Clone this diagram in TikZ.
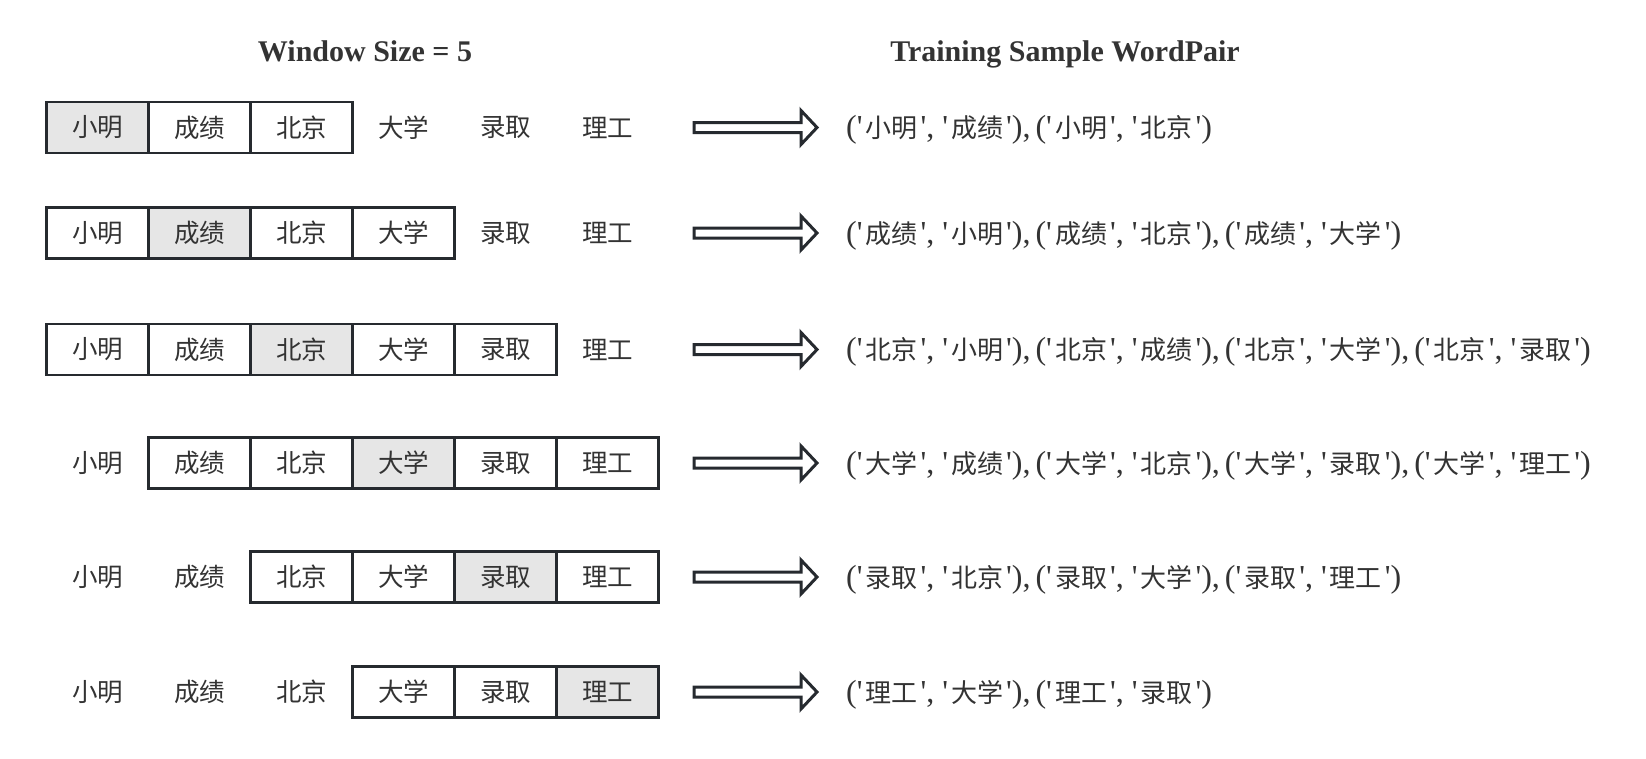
\documentclass[tikz,border=0pt]{standalone}
\usepackage{fontspec}
\setmainfont{Liberation Serif}
\newfontfamily\cjk{Noto Sans CJK SC}

\definecolor{boxgray}{HTML}{262A2F}
\definecolor{focusgray}{HTML}{E6E6E6}
\definecolor{inkgray}{HTML}{333333}

\newcommand{\qw}[1]{\textquotesingle\kern3pt{\cjk\fontsize{26}{26}\selectfont #1}\kern3pt\textquotesingle}
\newcommand{\nextpair}{),\kern5pt(}

\tikzset{
    word/.style={minimum width=102pt, minimum height=51pt, inner sep=0pt,
        text=inkgray, font=\cjk\fontsize{25.5}{25.5}\selectfont},
    cell/.style={word, draw=boxgray, line width=2.8pt, fill=white},
    focus/.style={cell, fill=focusgray},
    heading/.style={anchor=base, inner sep=0pt, text=inkgray, font=\bfseries\fontsize{30}{30}\selectfont},
    pairs/.style={anchor=base west, inner sep=0pt, text=inkgray, font=\fontsize{32}{32}\selectfont},
    hollow/.style={draw=boxgray, line width=3pt, fill=white, line join=miter}
}

\begin{document}
\begin{tikzpicture}[x=1pt, y=-1pt]
        \useasboundingbox (0,0) rectangle (1646,758);

        % headings
        \node[heading] (wsize) at (365,61) {Window Size = 5};
        \node[heading] (wpair) at (1065,61) {Training Sample WordPair};

        % row 1
        \node[focus] (a1) at (97.5,127.5) {小明};
        \node[cell] (a2) at (199.5,127.5) {成绩};
        \node[cell] (a3) at (301.5,127.5) {北京};
        \node[word] (a4) at (403.5,127.5) {大学};
        \node[word] (a5) at (505.5,127.5) {录取};
        \node[word] (a6) at (607.5,127.5) {理工};
        \coordinate (ta) at (694,127.5);
        \draw[hollow] (ta) ++(0,-5) -- ++(107,0) -- ++(0,-12) -- ++(16,17) -- ++(-16,17) -- ++(0,-12) -- ++(-107,0) -- cycle;
        \node[pairs] (pa) at (846,137.5) {(\qw{小明}, \qw{成绩}\nextpair\qw{小明}, \qw{北京})};

        % row 2
        \node[cell] (b1) at (97.5,233) {小明};
        \node[focus] (b2) at (199.5,233) {成绩};
        \node[cell] (b3) at (301.5,233) {北京};
        \node[cell] (b4) at (403.5,233) {大学};
        \node[word] (b5) at (505.5,233) {录取};
        \node[word] (b6) at (607.5,233) {理工};
        \coordinate (tb) at (694,233);
        \draw[hollow] (tb) ++(0,-5) -- ++(107,0) -- ++(0,-12) -- ++(16,17) -- ++(-16,17) -- ++(0,-12) -- ++(-107,0) -- cycle;
        \node[pairs] (pb) at (846,243) {(\qw{成绩}, \qw{小明}\nextpair\qw{成绩}, \qw{北京}\nextpair\qw{成绩}, \qw{大学})};

        % row 3
        \node[cell] (c1) at (97.5,349.5) {小明};
        \node[cell] (c2) at (199.5,349.5) {成绩};
        \node[focus] (c3) at (301.5,349.5) {北京};
        \node[cell] (c4) at (403.5,349.5) {大学};
        \node[cell] (c5) at (505.5,349.5) {录取};
        \node[word] (c6) at (607.5,349.5) {理工};
        \coordinate (tc) at (694,349.5);
        \draw[hollow] (tc) ++(0,-5) -- ++(107,0) -- ++(0,-12) -- ++(16,17) -- ++(-16,17) -- ++(0,-12) -- ++(-107,0) -- cycle;
        \node[pairs] (pc) at (846,359.5) {(\qw{北京}, \qw{小明}\nextpair\qw{北京}, \qw{成绩}\nextpair\qw{北京}, \qw{大学}\nextpair\qw{北京}, \qw{录取})};

        % row 4
        \node[word] (d1) at (97.5,463) {小明};
        \node[cell] (d2) at (199.5,463) {成绩};
        \node[cell] (d3) at (301.5,463) {北京};
        \node[focus] (d4) at (403.5,463) {大学};
        \node[cell] (d5) at (505.5,463) {录取};
        \node[cell] (d6) at (607.5,463) {理工};
        \coordinate (td) at (694,463);
        \draw[hollow] (td) ++(0,-5) -- ++(107,0) -- ++(0,-12) -- ++(16,17) -- ++(-16,17) -- ++(0,-12) -- ++(-107,0) -- cycle;
        \node[pairs] (pd) at (846,473) {(\qw{大学}, \qw{成绩}\nextpair\qw{大学}, \qw{北京}\nextpair\qw{大学}, \qw{录取}\nextpair\qw{大学}, \qw{理工})};

        % row 5
        \node[word] (e1) at (97.5,577) {小明};
        \node[word] (e2) at (199.5,577) {成绩};
        \node[cell] (e3) at (301.5,577) {北京};
        \node[cell] (e4) at (403.5,577) {大学};
        \node[focus] (e5) at (505.5,577) {录取};
        \node[cell] (e6) at (607.5,577) {理工};
        \coordinate (te) at (694,577);
        \draw[hollow] (te) ++(0,-5) -- ++(107,0) -- ++(0,-12) -- ++(16,17) -- ++(-16,17) -- ++(0,-12) -- ++(-107,0) -- cycle;
        \node[pairs] (pe) at (846,587) {(\qw{录取}, \qw{北京}\nextpair\qw{录取}, \qw{大学}\nextpair\qw{录取}, \qw{理工})};

        % row 6
        \node[word] (f1) at (97.5,692) {小明};
        \node[word] (f2) at (199.5,692) {成绩};
        \node[word] (f3) at (301.5,692) {北京};
        \node[cell] (f4) at (403.5,692) {大学};
        \node[cell] (f5) at (505.5,692) {录取};
        \node[focus] (f6) at (607.5,692) {理工};
        \coordinate (tf) at (694,692);
        \draw[hollow] (tf) ++(0,-5) -- ++(107,0) -- ++(0,-12) -- ++(16,17) -- ++(-16,17) -- ++(0,-12) -- ++(-107,0) -- cycle;
        \node[pairs] (pf) at (846,702) {(\qw{理工}, \qw{大学}\nextpair\qw{理工}, \qw{录取})};
    \end{tikzpicture}
\end{document}
